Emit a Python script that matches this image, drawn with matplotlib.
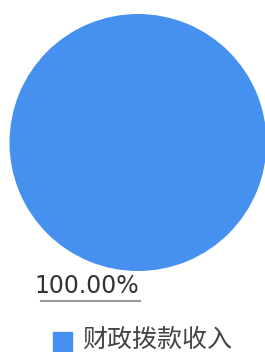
import matplotlib
matplotlib.use("Agg")
import matplotlib.pyplot as plt

categories = ["财政拨款收入"]
values = [100.0]
colors = ["#4690f0"]

plt.rcParams['font.family'] = ['Noto Sans CJK SC', 'DejaVu Sans']

W, H = 265, 352
fig = plt.figure(figsize=(W / 100, H / 100), dpi=100)
ax = fig.add_axes([0, 0, 1, 1])

wedges, _ = ax.pie(values, colors=colors, center=(138, 142.5), radius=128.5,
                   startangle=90, counterclock=False)

# pie() resets the limits, so set pixel-like limits afterwards
ax.set_xlim(0, W)
ax.set_ylim(H, 0)
ax.set_aspect("equal")
ax.axis("off")

total = sum(values)
pct = f"{values[0] / total * 100:.2f}%"
ax.text(87, 286, pct, ha="center", va="center", fontsize=17,
        color="#333333", family="DejaVu Sans")
ax.plot([41, 140], [300.5, 300.5], color="#999999", lw=1.5)

# legend
ax.add_patch(plt.Rectangle((53, 332), 19, 19, color=colors[0]))
ax.text(82, 340, categories[0], ha="left", va="center", fontsize=18,
        color="#444444")

fig.savefig("out.png", dpi=100)
